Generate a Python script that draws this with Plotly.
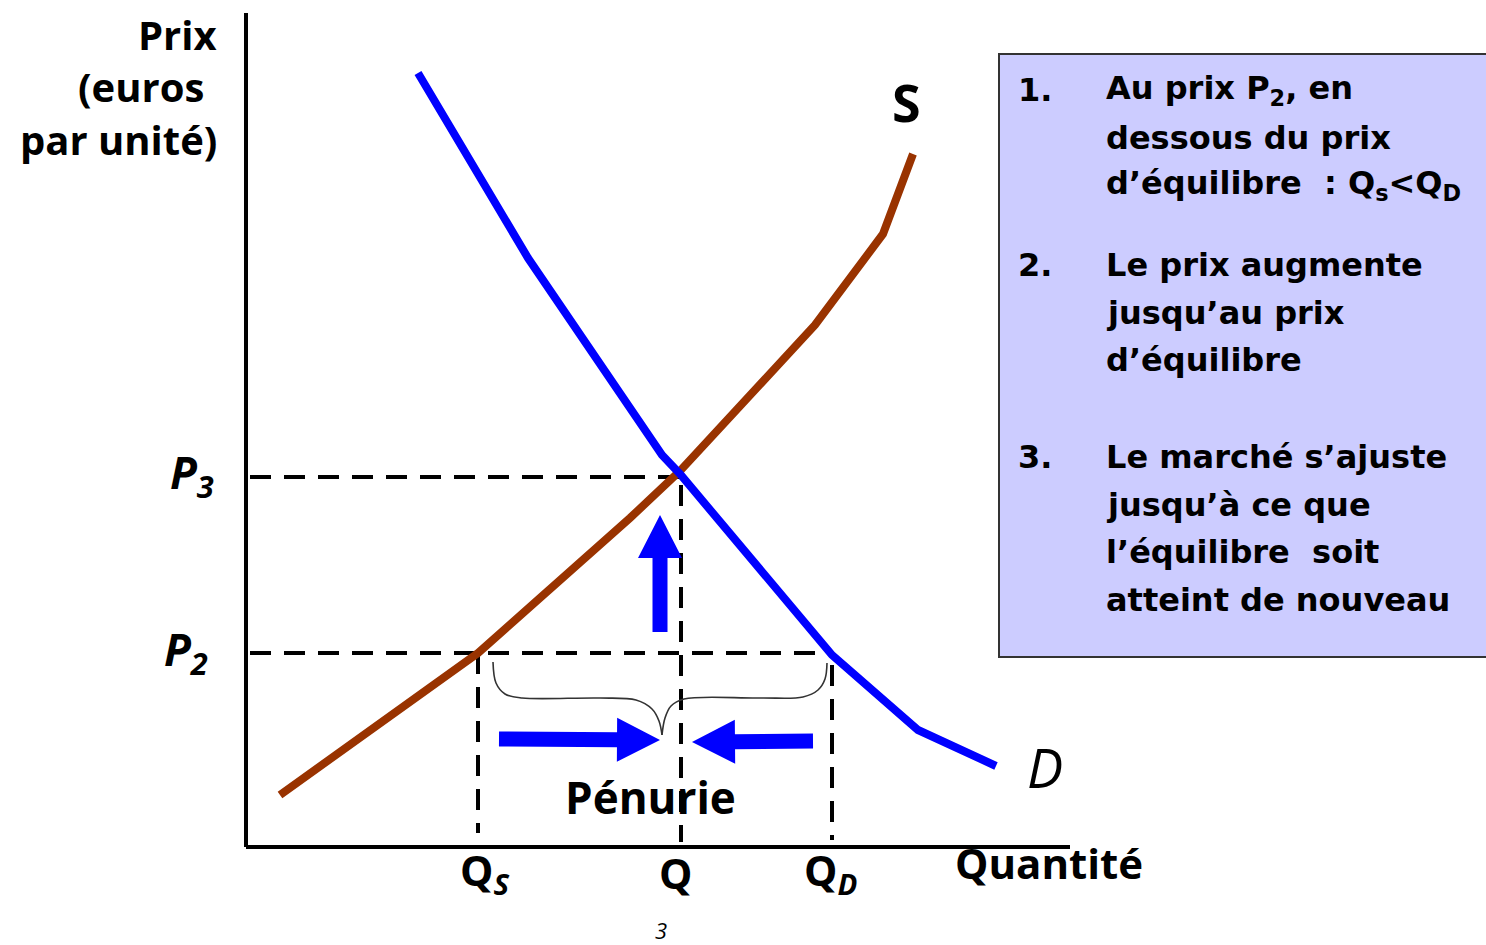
import math
import plotly.graph_objects as go

W, H = 1486, 945

# diagram units = picture pixels (x to the right, y downward)
demand_q = [418, 528, 662, 680, 832, 918, 996]
demand_p = [73, 258, 455, 474, 655, 730, 766]
supply_q = [280, 478, 630, 680, 815, 883, 913]
supply_p = [795, 653, 518, 471, 325, 234, 154]

origin = (246, 847)
y_top = 13
x_end = 1070

p3 = 477
p2 = 653
qs = 478
q = 681
qd = 832

# thick blue arrows: tail x, tail y, tip x, tip y
arrow_tail_x = [660, 499, 813]
arrow_tail_y = [632, 739, 741]
arrow_tip_x = [660, 660, 692]
arrow_tip_y = [515, 740, 742]

# brace over the shortage
brace_left_x = [493, 496, 505, 522, 600, 636, 652, 659, 662]
brace_left_y = [662, 683, 694, 698, 698, 700, 709, 721, 735]
brace_right_x = [662, 665, 671, 684, 760, 803, 818, 825, 827]
brace_right_y = [735, 718, 706, 699, 698, 697, 690, 679, 663]

box_numbers = ["1.", "2.", "3."]
box_lines = [
    ["Au prix P<sub>2</sub>, en", "dessous du prix",
     "d’équilibre  : Q<sub>s</sub>&lt;Q<sub>D</sub>"],
    ["Le prix augmente", "jusqu’au prix", "d’équilibre"],
    ["Le marché s’ajuste", "jusqu’à ce que", "l’équilibre  soit",
     "atteint de nouveau"],
]
box_item_y = [90, 265, 457]
box_line_step = 47.5

BLUE = "#0000FF"
BROWN = "#993300"


def arrow_polygon(x0, y0, x1, y1, shaft=15, head_w=44, head_l=43):
    L = math.hypot(x1 - x0, y1 - y0)
    ux, uy = (x1 - x0) / L, (y1 - y0) / L
    nx, ny = -uy, ux
    bx, by = x1 - ux * head_l, y1 - uy * head_l
    s, h = shaft / 2, head_w / 2
    xs = [x0 + nx * s, bx + nx * s, bx + nx * h, x1, bx - nx * h, bx - nx * s, x0 - nx * s, x0 + nx * s]
    ys = [y0 + ny * s, by + ny * s, by + ny * h, y1, by - ny * h, by - ny * s, y0 - ny * s, y0 + ny * s]
    return xs, ys


fig = go.Figure()

# text box (runs off the right edge)
fig.add_shape(type="rect", xref="x", yref="y", x0=999, x1=1500, y0=54, y1=657,
              fillcolor="#CCCCFF", line=dict(color="#333333", width=2), layer="below")

# axes
fig.add_trace(go.Scatter(x=[origin[0], origin[0]], y=[y_top, origin[1]], mode="lines",
                         line=dict(color="black", width=4)))
fig.add_trace(go.Scatter(x=[origin[0], x_end], y=[origin[1], origin[1]], mode="lines",
                         line=dict(color="black", width=4)))

# dashed guides
dash = dict(color="black", width=4, dash="21px,13px")
guides = [
    ([250, q], [p3, p3]),
    ([250, qd], [p2, p2]),
    ([qs, qs], [p2, 833]),
    ([q, q], [p3 + 8, 842]),
    ([qd, qd], [p2 + 12, 840]),
]
for gx, gy in guides:
    fig.add_trace(go.Scatter(x=gx, y=gy, mode="lines", line=dash))

# brace
for bx, by in [(brace_left_x, brace_left_y), (brace_right_x, brace_right_y)]:
    fig.add_trace(go.Scatter(x=bx, y=by, mode="lines",
                             line=dict(color="#333333", width=1.6, shape="spline", smoothing=1)))

# curves
fig.add_trace(go.Scatter(x=supply_q, y=supply_p, mode="lines",
                         line=dict(color=BROWN, width=8)))
fig.add_trace(go.Scatter(x=demand_q, y=demand_p, mode="lines",
                         line=dict(color=BLUE, width=8)))

# arrows
for x0, y0, x1, y1 in zip(arrow_tail_x, arrow_tail_y, arrow_tip_x, arrow_tip_y):
    ax, ay = arrow_polygon(x0, y0, x1, y1)
    fig.add_trace(go.Scatter(x=ax, y=ay, mode="lines", fill="toself",
                             fillcolor=BLUE, line=dict(color=BLUE, width=0)))

LABEL_FONT = "Open Sans"


def label(x, y, text, size, anchor="center", italic=False, bold=True, family=LABEL_FONT):
    fig.add_annotation(x=x, y=y, xref="x", yref="y", text=text, showarrow=False,
                       xanchor=anchor, yanchor="middle",
                       font=dict(family=family, size=size, color="black",
                                 weight="bold" if bold else "normal",
                                 style="italic" if italic else "normal"))


# price axis title
label(219, 34, "Prix", 40, anchor="right")
label(206, 86, "(euros", 40, anchor="right")
label(219, 139, "par unité)", 40, anchor="right")

# price levels
label(168, 474, "P<sub>3</sub>", 44, anchor="left", italic=True)
label(162, 651, "P<sub>2</sub>", 44, anchor="left", italic=True)

# quantity labels
label(484, 872, "Q<sub><i>S</i></sub>", 42)
label(675, 872, "Q", 42)
label(830, 872, "Q<sub><i>D</i></sub>", 42)
label(1049, 862, "Quantité", 42)
label(661, 930, "3", 22, italic=True, bold=False)

# curve names
label(906, 101, "S", 52)
label(1045, 767, "D", 54, italic=True, bold=False)

label(650, 797, "Pénurie", 44)

# explanation box
BOX_FONT = "DejaVu Sans"
for num, lines, y0 in zip(box_numbers, box_lines, box_item_y):
    label(1016, y0, num, 32, anchor="left", family=BOX_FONT)
    for i, line in enumerate(lines):
        label(1104, y0 + i * box_line_step, line, 32, anchor="left", family=BOX_FONT)

fig.update_layout(
    width=W, height=H,
    margin=dict(l=0, r=0, t=0, b=0),
    paper_bgcolor="white", plot_bgcolor="white",
    showlegend=False,
    hovermode=False,
    xaxis=dict(range=[0, W], visible=False, fixedrange=True),
    yaxis=dict(range=[H, 0], visible=False, fixedrange=True),
)

# drop the default page margin so the figure fills the window exactly
fig.write_html("out.html",
               config={"displayModeBar": False},
               post_script="document.body.style.margin='0';document.body.style.overflow='hidden';")
